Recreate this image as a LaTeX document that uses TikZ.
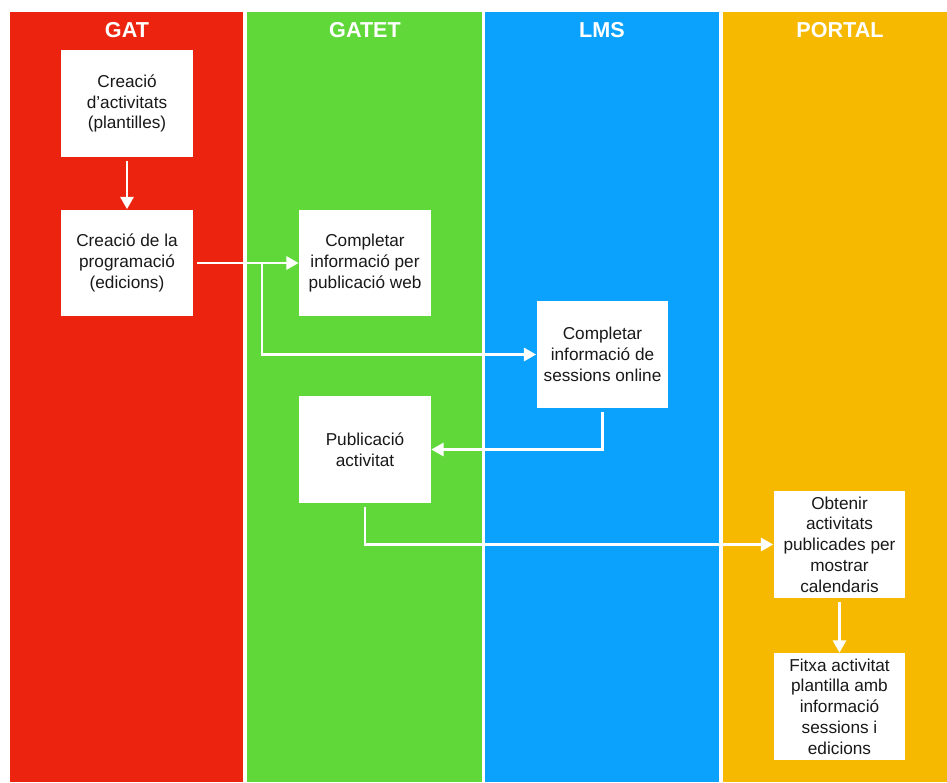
\documentclass[tikz,border=0pt]{standalone}
\usepackage{fontspec}
\setmainfont{Liberation Sans}
\usetikzlibrary{arrows.meta}
\definecolor{gatred}{RGB}{236,35,14}
\definecolor{gatetgreen}{RGB}{96,216,58}
\definecolor{lmsblue}{RGB}{10,162,252}
\definecolor{portalyellow}{RGB}{246,185,0}
\tikzset{box/.style={fill=white, text=black!90, align=center,
         minimum width=2.64cm, minimum height=2.14cm, inner sep=1pt,
         font=\fontsize{9.8}{11.8}\selectfont},
         flow/.style={white, line width=1.4pt, shorten <=2pt,
         -{Triangle[length=7pt,width=7.5pt]}},
         lanehead/.style={text=white, font=\bfseries\fontsize{12.3}{14}\selectfont}}

\begin{document}
\begin{tikzpicture}[x=0.02cm,y=-0.02cm]
      \useasboundingbox[fill=white] (0,0) rectangle (947,782);
      % swimlanes
      \fill[gatred] (10,12) rectangle (243,782);
      \fill[gatetgreen] (247,12) rectangle (482,782);
      \fill[lmsblue] (485,12) rectangle (719,782);
      \fill[portalyellow] (723,12) rectangle (947,782);
      \node[lanehead] (gat) at (127,30) {GAT};
      \node[lanehead] (gatet) at (365,30) {GATET};
      \node[lanehead] (lms) at (602,30) {LMS};
      \node[lanehead] (portal) at (840,30) {PORTAL};
      % steps
      \node[box] (plant) at (127,103.5) {Creació\\d’activitats\\(plantilles)};
      \node[box] (prog) at (127,263) {Creació de la\\programació\\(edicions)};
      \node[box] (web) at (365,263) {Completar\\informació per\\publicació web};
      \node[box] (sess) at (602.5,354.5) {Completar\\informació de\\sessions online};
      \node[box] (publ) at (365,449.5) {Publicació\\activitat};
      \node[box] (obt) at (839.5,544.5) {Obtenir\\activitats\\publicades per\\mostrar\\calendaris};
      \node[box] (fitxa) at (839.5,706.5) {Fitxa activitat\\plantilla amb\\informació\\sessions i\\edicions};
      \coordinate (split) at (262,263);
      % flows
      \draw[flow] (plant) -- (prog);
      \draw[flow] (prog) -- (web);
      \draw[flow, shorten <=0pt] (split) |- (sess.west);
      \draw[flow] (sess.south) |- (publ.east);
      \draw[flow] (publ.south) |- (obt.west);
      \draw[flow] (obt) -- (fitxa);
    \end{tikzpicture}
\end{document}
